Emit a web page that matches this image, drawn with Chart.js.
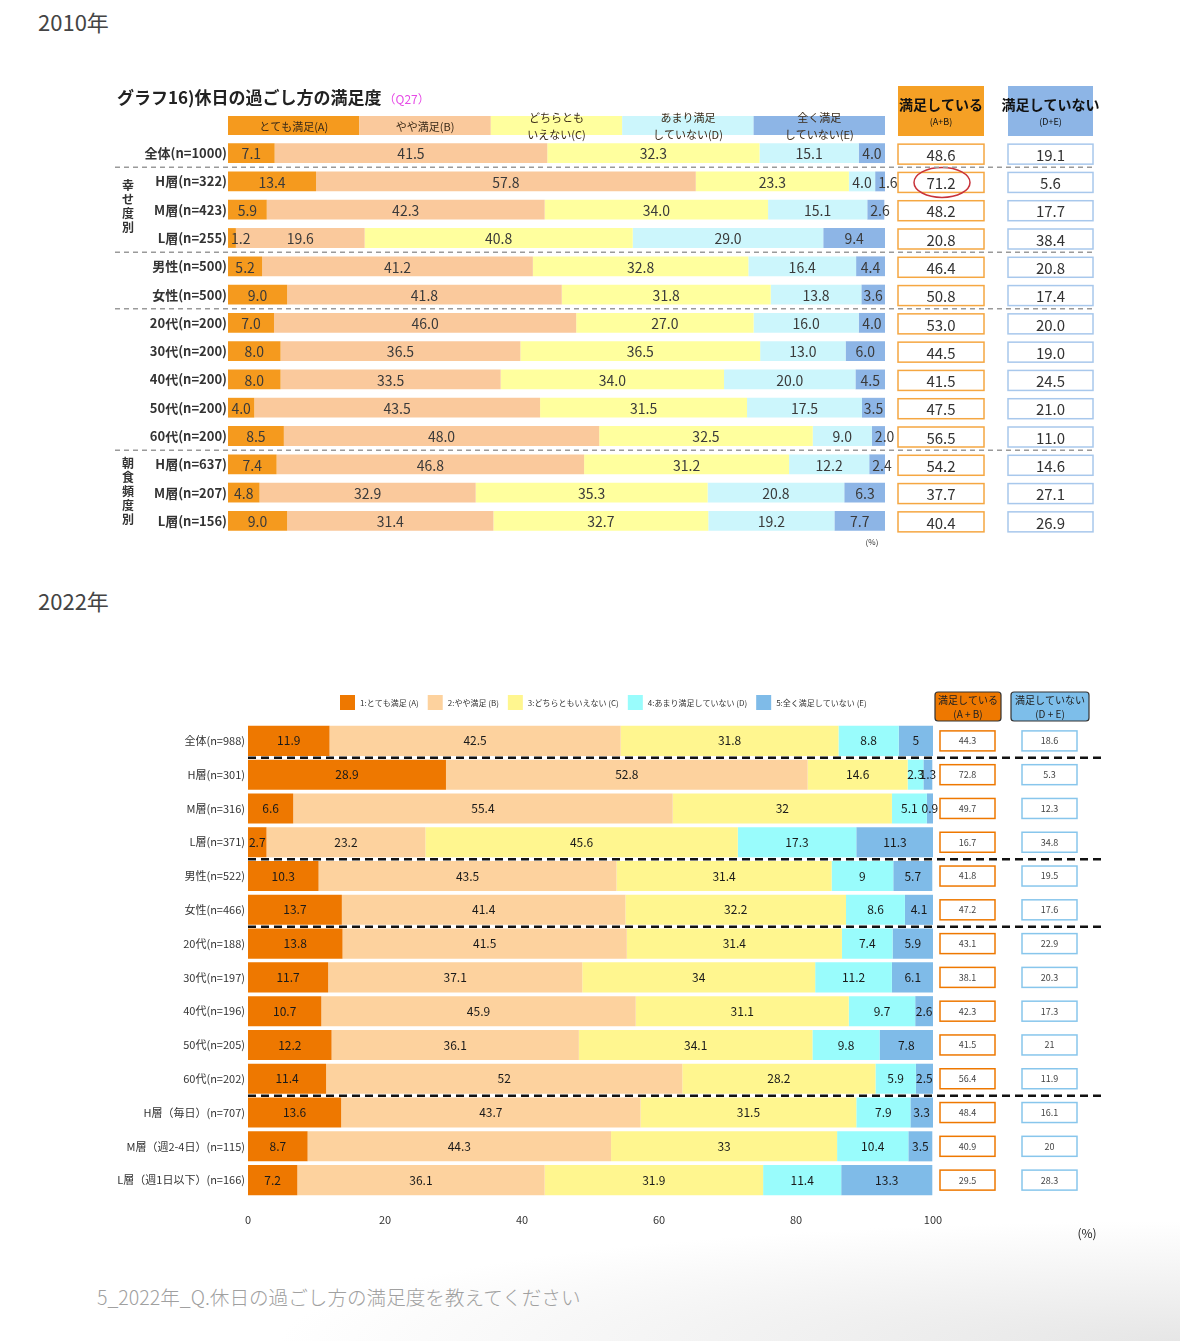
<!DOCTYPE html>
<html lang="ja">
<head>
<meta charset="utf-8">
<script src="https://cdn.jsdelivr.net/npm/chart.js@4.4.1/dist/chart.umd.min.js"></script>
<style>
  body { margin: 0; background: #fff; font-family: "Noto Sans CJK JP", "Noto Sans", sans-serif; }
  #page { position: relative; width: 1180px; height: 1341px; overflow: hidden;
    background: radial-gradient(ellipse 900px 120px at 1180px 1341px, #e6e6e6 0%, #fff 100%); }
  .year { position: absolute; left: 38px; font-size: 22px; color: #444; line-height: 1; }
  .wrap { position: absolute; left: 0; width: 1180px; }
  #note { position: absolute; left: 97px; top: 1282px; font-size: 19.6px; color: #a0a0a0; font-weight: 300; }
</style>
</head>
<body>
<div id="page">
  <div class="year" style="top:10px">2010年</div>
  <div class="wrap" style="top:60px;height:500px"><canvas id="c2010" width="1180" height="500"></canvas></div>
  <div class="year" style="top:589px">2022年</div>
  <div class="wrap" style="top:680px;height:570px"><canvas id="c2022" width="1180" height="570"></canvas></div>
  <div id="note">5_2022年_Q.休日の過ごし方の満足度を教えてください</div>
</div>
<script>
// ---- 2010 data ----
const rows2010 = ['全体(n=1000)', 'H層(n=322)', 'M層(n=423)', 'L層(n=255)', '男性(n=500)', '女性(n=500)',
  '20代(n=200)', '30代(n=200)', '40代(n=200)', '50代(n=200)', '60代(n=200)',
  'H層(n=637)', 'M層(n=207)', 'L層(n=156)'];
const a2010 = [7.1, 13.4, 5.9, 1.2, 5.2, 9.0, 7.0, 8.0, 8.0, 4.0, 8.5, 7.4, 4.8, 9.0];
const b2010 = [41.5, 57.8, 42.3, 19.6, 41.2, 41.8, 46.0, 36.5, 33.5, 43.5, 48.0, 46.8, 32.9, 31.4];
const c2010 = [32.3, 23.3, 34.0, 40.8, 32.8, 31.8, 27.0, 36.5, 34.0, 31.5, 32.5, 31.2, 35.3, 32.7];
const d2010 = [15.1, 4.0, 15.1, 29.0, 16.4, 13.8, 16.0, 13.0, 20.0, 17.5, 9.0, 12.2, 20.8, 19.2];
const e2010 = [4.0, 1.6, 2.6, 9.4, 4.4, 3.6, 4.0, 6.0, 4.5, 3.5, 2.0, 2.4, 6.3, 7.7];
const ab2010 = [48.6, 71.2, 48.2, 20.8, 46.4, 50.8, 53.0, 44.5, 41.5, 47.5, 56.5, 54.2, 37.7, 40.4];
const de2010 = [19.1, 5.6, 17.7, 38.4, 20.8, 17.4, 20.0, 19.0, 24.5, 21.0, 11.0, 14.6, 27.1, 26.9];
const heads2010 = [['とても満足(A)'], ['やや満足(B)'], ['どちらとも', 'いえない(C)'], ['あまり満足', 'していない(D)'], ['全く満足', 'していない(E)']];
const colors2010 = ['#F59A1E', '#FAC99C', '#FFFF9E', '#CCF6FC', '#8DB5E6'];

// ---- 2022 data ----
const rows2022 = ['全体(n=988)', 'H層(n=301)', 'M層(n=316)', 'L層(n=371)', '男性(n=522)', '女性(n=466)',
  '20代(n=188)', '30代(n=197)', '40代(n=196)', '50代(n=205)', '60代(n=202)',
  'H層（毎日）(n=707)', 'M層（週2-4日）(n=115)', 'L層（週1日以下）(n=166)'];
const a2022 = [11.9, 28.9, 6.6, 2.7, 10.3, 13.7, 13.8, 11.7, 10.7, 12.2, 11.4, 13.6, 8.7, 7.2];
const b2022 = [42.5, 52.8, 55.4, 23.2, 43.5, 41.4, 41.5, 37.1, 45.9, 36.1, 52, 43.7, 44.3, 36.1];
const c2022 = [31.8, 14.6, 32, 45.6, 31.4, 32.2, 31.4, 34, 31.1, 34.1, 28.2, 31.5, 33, 31.9];
const d2022 = [8.8, 2.3, 5.1, 17.3, 9, 8.6, 7.4, 11.2, 9.7, 9.8, 5.9, 7.9, 10.4, 11.4];
const e2022 = [5, 1.3, 0.9, 11.3, 5.7, 4.1, 5.9, 6.1, 2.6, 7.8, 2.5, 3.3, 3.5, 13.3];
const ab2022 = [44.3, 72.8, 49.7, 16.7, 41.8, 47.2, 43.1, 38.1, 42.3, 41.5, 56.4, 48.4, 40.9, 29.5];
const de2022 = [18.6, 5.3, 12.3, 34.8, 19.5, 17.6, 22.9, 20.3, 17.3, 21, 11.9, 16.1, 20, 28.3];
const legend2022 = ['1:とても満足 (A)', '2:やや満足 (B)', '3:どちらともいえない (C)', '4:あまり満足していない (D)', '5:全く満足していない (E)'];
const colors2022 = ['#EE7800', '#FDD29E', '#FFF68F', '#99FCFC', '#7FBBE8'];
const xTicks2022 = [0, 20, 40, 60, 80, 100];

const JP = '"Noto Sans CJK JP", sans-serif';

function makeSets(series, colors) {
  return series.map((d, i) => ({ data: d, backgroundColor: colors[i], borderWidth: 0 }));
}

// segment value labels
const segLabels = {
  id: 'segLabels',
  afterDatasetsDraw(chart, args, o) {
    const ctx = chart.ctx;
    ctx.save();
    ctx.font = o.font;
    ctx.fillStyle = o.color;
    ctx.textBaseline = 'middle';
    chart.data.datasets.forEach((ds, i) => {
      chart.getDatasetMeta(i).data.forEach((bar, j) => {
        const txt = o.fmt(ds.data[j]);
        const left = Math.min(bar.x, bar.base), w = Math.abs(bar.x - bar.base);
        const tw = ctx.measureText(txt).width;
        if (o.shiftSmall && tw > w) {
          ctx.textAlign = 'left';
          ctx.fillText(txt, left + 3, bar.y + o.dy);
        } else {
          ctx.textAlign = 'center';
          ctx.fillText(txt, left + w / 2, bar.y + o.dy);
        }
      });
    });
    ctx.restore();
  }
};

// extras for 2010
const extras2010 = {
  id: 'extras2010',
  afterDraw(chart) {
    const ctx = chart.ctx, ca = chart.chartArea, ys = chart.scales.y;
    ctx.save();
    // title
    ctx.textBaseline = 'middle';
    ctx.textAlign = 'left';
    ctx.fillStyle = '#222';
    ctx.font = 'bold 17px ' + JP;
    const t = 'グラフ16)休日の過ごし方の満足度';
    ctx.fillText(t, 117, 38);
    const tw = ctx.measureText(t).width;
    ctx.fillStyle = '#E64BE6';
    ctx.font = '12px ' + JP;
    ctx.fillText('（Q27）', 117 + tw + 2, 39);

    // column header band
    const cw = (ca.right - ca.left) / 5;
    heads2010.forEach((h, k) => {
      const x = ca.left + k * cw;
      ctx.fillStyle = colors2010[k];
      ctx.fillRect(x, 56, cw, 19);
      ctx.fillStyle = '#3a2a18';
      ctx.font = '11px ' + JP;
      ctx.textAlign = 'center';
      if (h.length === 1) ctx.fillText(h[0], x + cw / 2, 67);
      else { ctx.fillText(h[0], x + cw / 2, 58); ctx.fillText(h[1], x + cw / 2, 75); }
    });

    // right header boxes
    const cols = [{ x: 898, w: 86, fill: '#F5A025', border: '#F5A742', t: '満足している', s: '(A+B)', vals: ab2010 },
                  { x: 1008, w: 85, fill: '#8DB5E6', border: '#A8C8EC', t: '満足していない', s: '(D+E)', vals: de2010 }];
    cols.forEach(c => {
      ctx.fillStyle = c.fill;
      ctx.fillRect(c.x, 26, c.w, 50);
      ctx.fillStyle = '#111';
      ctx.textAlign = 'center';
      ctx.font = 'bold 14px ' + JP;
      ctx.fillText(c.t, c.x + c.w / 2, 45);
      ctx.font = '9px ' + JP;
      ctx.fillText(c.s, c.x + c.w / 2, 62);
      ctx.font = '15px ' + JP;
      c.vals.forEach((v, j) => {
        const y = ys.getPixelForValue(j);
        ctx.fillStyle = '#fff';
        ctx.fillRect(c.x, y - 9, c.w, 20);
        ctx.strokeStyle = c.border;
        ctx.lineWidth = 1.5;
        ctx.strokeRect(c.x, y - 9, c.w, 20);
        ctx.fillStyle = '#333';
        ctx.fillText(v.toFixed(1), c.x + c.w / 2, y + 2);
      });
    });

    // red ellipse around the H層 value
    const yH = ys.getPixelForValue(1);
    ctx.strokeStyle = '#C8333A';
    ctx.lineWidth = 1.5;
    ctx.beginPath();
    ctx.ellipse(942, yH + 1, 28, 15, 0, 0, Math.PI * 2);
    ctx.stroke();

    // dashed separators
    ctx.strokeStyle = '#9a9a9a';
    ctx.lineWidth = 1.5;
    ctx.setLineDash([5, 4]);
    [0, 3, 5, 10].forEach(j => {
      const y = (ys.getPixelForValue(j) + ys.getPixelForValue(j + 1)) / 2;
      ctx.beginPath();
      ctx.moveTo(115, y);
      ctx.lineTo(1095, y);
      ctx.stroke();
    });
    ctx.setLineDash([]);

    // vertical group labels
    ctx.fillStyle = '#333';
    ctx.font = 'bold 12px ' + JP;
    ctx.textAlign = 'center';
    '幸せ度別'.split('').forEach((ch, k) => ctx.fillText(ch, 128, 125 + k * 14));
    '朝食頻度別'.split('').forEach((ch, k) => ctx.fillText(ch, 128, 403 + k * 14));

    ctx.font = '8px ' + JP;
    ctx.fillText('(%)', 872, 482);
    ctx.restore();
  }
};

// extras for 2022
const extras2022 = {
  id: 'extras2022',
  afterDraw(chart) {
    const ctx = chart.ctx, ys = chart.scales.y;
    ctx.save();
    ctx.textBaseline = 'middle';
    // legend
    ctx.font = '8px ' + JP;
    let x = 340;
    legend2022.forEach((l, k) => {
      ctx.fillStyle = colors2022[k];
      ctx.fillRect(x, 15, 15, 15);
      ctx.fillStyle = '#333';
      ctx.textAlign = 'left';
      ctx.fillText(l, x + 20, 23);
      x += 20 + ctx.measureText(l).width + 9;
    });

    // right header boxes + value boxes
    const cols = [{ x: 935, w: 66, bx: 940, bw: 55, fill: '#EE7800', border: '#EE7800', t: '満足している', s: '(A + B)', vals: ab2022 },
                  { x: 1011, w: 78, bx: 1022, bw: 55, fill: '#7DBEEA', border: '#88C6EC', t: '満足していない', s: '(D + E)', vals: de2022 }];
    cols.forEach(c => {
      ctx.fillStyle = c.fill;
      ctx.strokeStyle = '#333';
      ctx.lineWidth = 1.2;
      ctx.beginPath();
      ctx.roundRect(c.x, 12, c.w, 29, 3);
      ctx.fill();
      ctx.stroke();
      ctx.fillStyle = '#222';
      ctx.textAlign = 'center';
      ctx.font = '10px ' + JP;
      ctx.fillText(c.t, c.x + c.w / 2, 20);
      ctx.fillText(c.s, c.x + c.w / 2, 34);
      ctx.font = '9px ' + JP;
      c.vals.forEach((v, j) => {
        const y = ys.getPixelForValue(j);
        ctx.fillStyle = '#fff';
        ctx.fillRect(c.bx, y - 10, c.bw, 20);
        ctx.strokeStyle = c.border;
        ctx.lineWidth = 1.5;
        ctx.strokeRect(c.bx, y - 10, c.bw, 20);
        ctx.fillStyle = '#444';
        ctx.fillText(String(v), c.bx + c.bw / 2, y);
      });
    });

    // dashed black separators
    ctx.strokeStyle = '#111';
    ctx.lineWidth = 2.5;
    ctx.setLineDash([8, 5]);
    [0, 3, 5, 10].forEach(j => {
      const y = (ys.getPixelForValue(j) + ys.getPixelForValue(j + 1)) / 2;
      ctx.beginPath();
      ctx.moveTo(248, y);
      ctx.lineTo(1102, y);
      ctx.stroke();
    });
    ctx.setLineDash([]);

    ctx.fillStyle = '#222';
    ctx.font = '12px ' + JP;
    ctx.textAlign = 'center';
    ctx.fillText('(%)', 1087, 553);
    ctx.restore();
  }
};

// 1. 2010 chart
new Chart(document.getElementById('c2010'), {
  type: 'bar',
  data: { labels: rows2010, datasets: makeSets([a2010, b2010, c2010, d2010, e2010], colors2010) },
  options: {
    indexAxis: 'y',
    responsive: false,
    animation: false,
    events: [],
    datasets: { bar: { categoryPercentage: 1, barPercentage: 0.7 } },
    layout: { padding: { left: 100, right: 295, top: 79, bottom: 25 } },
    scales: {
      x: { stacked: true, min: 0, max: 100, display: false },
      y: {
        stacked: true,
        grid: { display: false, drawTicks: false },
        border: { display: false },
        ticks: { padding: 1, color: '#333', font: { family: JP, size: 13, weight: 'bold' } },
        afterFit: s => { s.width = 128; }
      }
    },
    plugins: {
      legend: { display: false },
      tooltip: { enabled: false },
      segLabels: { font: '14px ' + JP, color: '#3a3a3a', dy: 1, shiftSmall: true, fmt: v => v.toFixed(1) }
    }
  },
  plugins: [segLabels, extras2010]
});

// 2. 2022 chart
new Chart(document.getElementById('c2022'), {
  type: 'bar',
  data: { labels: rows2022, datasets: makeSets([a2022, b2022, c2022, d2022, e2022], colors2022) },
  options: {
    indexAxis: 'y',
    responsive: false,
    animation: false,
    events: [],
    datasets: { bar: { categoryPercentage: 1, barPercentage: 0.89 } },
    layout: { padding: { left: 108, right: 247, top: 44, bottom: 18 } },
    scales: {
      x: {
        stacked: true, min: 0, max: 100,
        grid: { display: false, drawTicks: false },
        border: { display: false },
        afterBuildTicks: s => { s.ticks = xTicks2022.map(v => ({ value: v })); },
        ticks: { padding: 16, color: '#333', font: { family: JP, size: 11 } },
        afterFit: s => { s.height = 35; }
      },
      y: {
        stacked: true,
        grid: { display: false, drawTicks: false },
        border: { display: false },
        ticks: { padding: 3, color: '#333', font: { family: JP, size: 11 } },
        afterFit: s => { s.width = 140; }
      }
    },
    plugins: {
      legend: { display: false },
      tooltip: { enabled: false },
      segLabels: { font: '12px ' + JP, color: '#1a1a1a', dy: 0, shiftSmall: false, fmt: v => String(v) }
    }
  },
  plugins: [segLabels, extras2022]
});
</script>
</body>
</html>
